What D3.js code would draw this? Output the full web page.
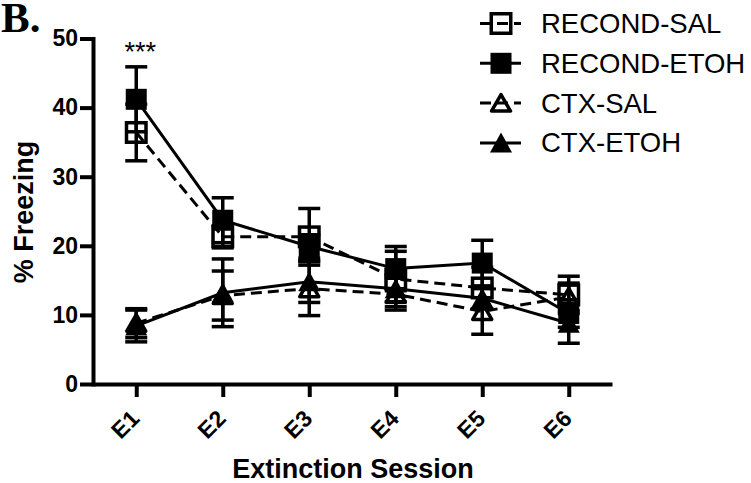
<!DOCTYPE html>
<html>
<head>
<meta charset="utf-8">
<script src="https://d3js.org/d3.v7.min.js"></script>
<style>
    body { margin: 0; background: #fff; }
    svg { display: block; font-family: "Liberation Sans", Arial, sans-serif; }
</style>
</head>
<body>
<svg id="chart" width="751" height="483"></svg>
<script>
// Extinction sessions and the y axis ticks
var sessions = ["E1", "E2", "E3", "E4", "E5", "E6"];
var yTicks = [0, 10, 20, 30, 40, 50];

// Mean % freezing per session and the SEM for each group
var recondSal      = [36.4, 21.3, 21.3, 15.2, 13.9, 12.9];
var recondSalSem   = [4.1, 1.6, 4.1, 4.0, 3.0, 2.7];
var recondEtoh     = [41.2, 23.7, 19.9, 16.7, 17.5, 10.2];
var recondEtohSem  = [4.7, 3.25, 1.7, 3.2, 3.3, 2.0];
var ctxSal         = [8.8, 12.8, 13.8, 13.0, 10.5, 12.6];
var ctxSalSem      = [2.1, 3.55, 3.9, 2.3, 3.3, 2.0];
var ctxEtoh        = [8.4, 13.2, 14.8, 13.8, 12.4, 8.8];
var ctxEtohSem     = [2.3, 4.9, 3.0, 1.9, 1.5, 2.9];

var groupNames = ["RECOND-SAL", "RECOND-ETOH", "CTX-SAL", "CTX-ETOH"];
var significance = "***";

// Build the series table from the arrays above
var series = [
    { name: groupNames[0], values: recondSal,  sem: recondSalSem,  shape: "square",   filled: false, dashed: true },
    { name: groupNames[1], values: recondEtoh, sem: recondEtohSem, shape: "square",   filled: true,  dashed: false },
    { name: groupNames[2], values: ctxSal,     sem: ctxSalSem,     shape: "triangle", filled: false, dashed: true },
    { name: groupNames[3], values: ctxEtoh,    sem: ctxEtohSem,    shape: "triangle", filled: true,  dashed: false }
];

var svg = d3.select("#chart");

var x = d3.scalePoint().domain(sessions).range([93, 612]).padding(0.5);
var y = d3.scaleLinear().domain([0, 50]).range([384, 38.5]);

// Axes
var yAxis = svg.append("g")
    .attr("transform", "translate(93,0)")
    .call(d3.axisLeft(y).tickValues(yTicks).tickSize(13).tickSizeOuter(0).tickPadding(2));

var xAxis = svg.append("g")
    .attr("transform", "translate(0,384)")
    .call(d3.axisBottom(x).tickSize(13).tickSizeOuter(0));

svg.selectAll(".domain, .tick line")
    .attr("stroke", "#000")
    .attr("stroke-width", 4);
yAxis.select(".domain").attr("stroke-linecap", "square");

yAxis.selectAll("text")
    .attr("fill", "#000")
    .style("font-size", "23px")
    .style("font-weight", "bold")
    .style("font-family", "'Liberation Sans', Arial, sans-serif");

xAxis.selectAll("text")
    .attr("y", 0)
    .attr("dy", 0)
    .attr("fill", "#000")
    .attr("text-anchor", "end")
    .attr("transform", "translate(4,36) rotate(-45)")
    .style("font-size", "23px")
    .style("font-weight", "bold")
    .style("font-family", "'Liberation Sans', Arial, sans-serif");

// Axis titles
svg.append("text")
    .attr("x", 353)
    .attr("y", 478)
    .attr("text-anchor", "middle")
    .style("font-size", "27px")
    .style("font-weight", "bold")
    .text("Extinction Session");

svg.append("text")
    .attr("transform", "translate(33,212) rotate(-90)")
    .attr("text-anchor", "middle")
    .style("font-size", "27px")
    .style("font-weight", "bold")
    .text("% Freezing");

// Panel letter
svg.append("text")
    .attr("x", 1)
    .attr("y", 32)
    .style("font-family", "'Liberation Serif', 'Times New Roman', serif")
    .style("font-size", "43px")
    .style("font-weight", "bold")
    .text("B.");

// Draws one marker centered at (cx, cy)
function drawMarker(g, s, cx, cy) {
    if (s.shape === "square") {
        var side = s.filled ? 21 : 19.5;
        g.append("rect")
            .attr("x", cx - side / 2)
            .attr("y", cy - side / 2)
            .attr("width", side)
            .attr("height", side)
            .attr("fill", s.filled ? "#000" : "none")
            .attr("stroke", s.filled ? "none" : "#000")
            .attr("stroke-width", 3.5);
    } else {
        var w = s.filled ? 11 : 9.5, top = s.filled ? 10.5 : 8.5, bot = s.filled ? 9.5 : 8;
        g.append("path")
            .attr("d", "M" + cx + "," + (cy - top) + "L" + (cx + w) + "," + (cy + bot) +
                "L" + (cx - w) + "," + (cy + bot) + "Z")
            .attr("fill", s.filled ? "#000" : "none")
            .attr("stroke", s.filled ? "none" : "#000")
            .attr("stroke-width", 3.5)
            .attr("stroke-linejoin", "round");
    }
}

// Connecting lines
var line = d3.line()
    .x(function(d, i) { return x(sessions[i]); })
    .y(function(d) { return y(d); });

series.forEach(function(s) {
    svg.append("path")
        .datum(s.values)
        .attr("d", line)
        .attr("fill", "none")
        .attr("stroke", "#000")
        .attr("stroke-width", 3)
        .attr("stroke-dasharray", s.dashed ? "11,6" : null);
});

// Error bars and markers
series.forEach(function(s) {
    var g = svg.append("g");
    s.values.forEach(function(v, i) {
        var cx = x(sessions[i]);
        var hi = y(v + s.sem[i]), lo = y(v - s.sem[i]);
        g.append("line")
            .attr("x1", cx).attr("x2", cx)
            .attr("y1", hi).attr("y2", lo)
            .attr("stroke", "#000").attr("stroke-width", 3.5);
        [hi, lo].forEach(function(yy) {
            g.append("line")
                .attr("x1", cx - 11).attr("x2", cx + 11)
                .attr("y1", yy).attr("y2", yy)
                .attr("stroke", "#000").attr("stroke-width", 3.5);
        });
        drawMarker(g, s, cx, y(v));
    });
});

// Significance stars over E1
svg.append("text")
    .attr("x", x(sessions[0]) + 4)
    .attr("y", 61)
    .attr("text-anchor", "middle")
    .style("font-size", "27px")
    .text(significance);

// Legend
var legend = svg.append("g");
series.forEach(function(s, i) {
    var cy = 23.5 + i * 39.8;
    legend.append("line")
        .attr("x1", 480).attr("x2", 521)
        .attr("y1", cy).attr("y2", cy)
        .attr("stroke", "#000")
        .attr("stroke-width", 3)
        .attr("stroke-dasharray", s.dashed ? "11,6" : null);
    drawMarker(legend, s, 501, cy);
    legend.append("text")
        .attr("x", 541)
        .attr("y", cy + 9.5)
        .style("font-size", "27.5px")
        .text(s.name);
});
</script>
</body>
</html>
